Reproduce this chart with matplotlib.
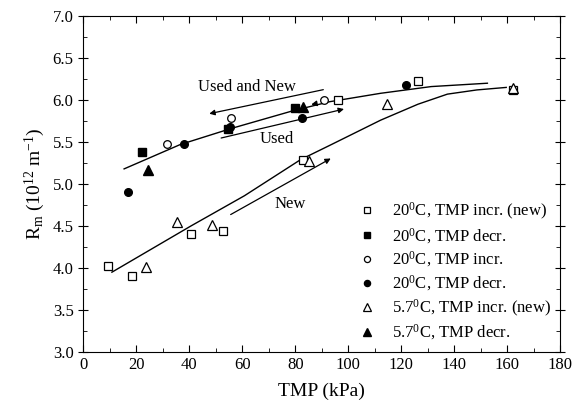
import matplotlib
matplotlib.use("Agg")
import matplotlib.pyplot as plt
from matplotlib.ticker import MultipleLocator

plt.rcParams['font.family'] = ['Liberation Serif', 'DejaVu Serif']
plt.rcParams['mathtext.fontset'] = 'custom'
plt.rcParams['mathtext.rm'] = 'Liberation Serif'
plt.rcParams['mathtext.it'] = 'Liberation Serif:italic'

# data (TMP in kPa, Rm in 1e12 1/m)
sq_open_x = [9.3, 18.4, 40.6, 52.7, 83.0, 96.1, 126.3, 162]
sq_open_y = [4.02, 3.90, 4.40, 4.44, 5.29, 6.00, 6.23, 6.12]
sq_fill_x = [22, 54.7, 79.9]
sq_fill_y = [5.38, 5.65, 5.90]
ci_open_x = [31.5, 55.7, 91]
ci_open_y = [5.48, 5.79, 6.00]
ci_fill_x = [17, 38, 55.2, 82.6, 121.8]
ci_fill_y = [4.90, 5.48, 5.68, 5.79, 6.18]
tr_open_x = [23.5, 35.2, 48.4, 85, 114.7, 162]
tr_open_y = [4.01, 4.55, 4.51, 5.27, 5.95, 6.14]
tr_fill_x = [24.5, 83]
tr_fill_y = [5.17, 5.92]

# fitted curves as drawn
upper_x = [15.4, 36.6, 55.7, 78.9, 93, 112.2, 131.3, 152.5]
upper_y = [5.18, 5.47, 5.66, 5.87, 5.98, 6.08, 6.16, 6.20]
lower_x = [10.8, 40.6, 60.8, 82, 93, 112.2, 126.3, 137.4, 148.5, 159.6]
lower_y = [3.95, 4.50, 4.86, 5.29, 5.46, 5.76, 5.95, 6.07, 6.12, 6.15]

labels = ['20$^0$C, TMP incr. (new)', '20$^0$C, TMP decr.', '20$^0$C, TMP incr.',
          '20$^0$C, TMP decr.', '5.7$^0$C, TMP incr. (new)', '5.7$^0$C, TMP decr.']

fig = plt.figure(figsize=(5.76, 4.11), dpi=100)
ax = fig.add_axes([0.1446, 0.1436, 0.8281, 0.8174])

ax.plot(upper_x, upper_y, color='black', lw=1.0)
ax.plot(lower_x, lower_y, color='black', lw=1.0)

ms = 5.5
ax.plot(sq_open_x, sq_open_y, 's', mfc='white', mec='black', ms=ms, mew=0.9, ls='none', label=labels[0])
ax.plot(sq_fill_x, sq_fill_y, 's', mfc='black', mec='black', ms=ms, ls='none', label=labels[1])
ax.plot(ci_open_x, ci_open_y, 'o', mfc='white', mec='black', ms=ms, mew=0.9, ls='none', label=labels[2])
ax.plot(ci_fill_x, ci_fill_y, 'o', mfc='black', mec='black', ms=ms, ls='none', label=labels[3])
ax.plot(tr_open_x, tr_open_y, '^', mfc='white', mec='black', ms=ms + 1, mew=0.9, ls='none', label=labels[4])
ax.plot(tr_fill_x, tr_fill_y, '^', mfc='black', mec='black', ms=ms + 1, ls='none', label=labels[5])

# direction arrows and notes
arw = dict(arrowstyle='-|>', color='black', lw=0.9, mutation_scale=8)
ax.annotate('', xy=(46.5, 5.83), xytext=(91.6, 6.13), arrowprops=arw)
ax.annotate('', xy=(85, 5.94), xytext=(89, 5.965), arrowprops=arw)
ax.annotate('', xy=(99.4, 5.90), xytext=(51, 5.54), arrowprops=arw)
ax.annotate('', xy=(94.3, 5.32), xytext=(54.7, 4.62), arrowprops=arw)
ax.text(61.8, 6.16, 'Used and New', ha='center', va='center', fontsize=12)
ax.text(72.9, 5.53, 'Used', ha='center', va='center', fontsize=12)
ax.text(77.9, 4.76, 'New', ha='center', va='center', fontsize=12)

ax.set_xlim(0, 180)
ax.set_ylim(3.0, 7.0)
ax.xaxis.set_major_locator(MultipleLocator(20))
ax.xaxis.set_minor_locator(MultipleLocator(10))
ax.yaxis.set_major_locator(MultipleLocator(0.5))
ax.yaxis.set_minor_locator(MultipleLocator(0.25))
ax.yaxis.set_major_formatter(plt.FormatStrFormatter('%.1f'))
ax.tick_params(which='both', direction='in', top=True, right=True, labelsize=12)
ax.tick_params(which='major', length=5)
ax.tick_params(which='minor', length=3)
ax.tick_params(axis='y', which='major', direction='inout', length=7)

ax.set_xlabel('TMP (kPa)', fontsize=14, labelpad=7)
ax.set_ylabel('R$_\\mathrm{m}$ (10$^{12}$ m$^{-1}$)', fontsize=14)

ax.legend(loc='lower right', bbox_to_anchor=(1.0, 0.002), frameon=False, fontsize=12,
          handletextpad=1.0, labelspacing=0.25, markerscale=0.8, handlelength=1.0,
          borderaxespad=0.14)

fig.savefig('out.png', dpi=100)
